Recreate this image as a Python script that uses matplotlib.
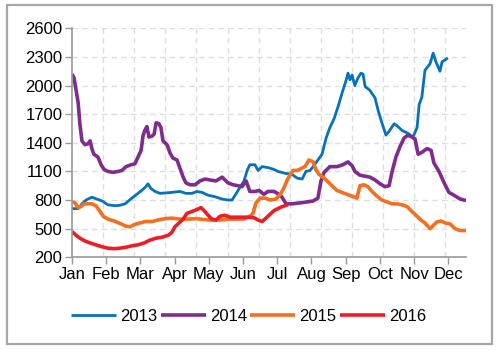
import matplotlib
matplotlib.use("Agg")
import matplotlib.pyplot as plt
from matplotlib.patches import Rectangle
from matplotlib.ticker import FixedLocator

plt.rcParams['font.family'] = ['Liberation Sans', 'DejaVu Sans']

months = ["Jan", "Feb", "Mar", "Apr", "May", "Jun", "Jul", "Aug", "Sep", "Oct", "Nov", "Dec"]
y_ticks = [200, 500, 800, 1100, 1400, 1700, 2000, 2300, 2600]
series_names = ["2013", "2014", "2015", "2016"]

x_2013 = [0.00, 0.18, 0.29, 0.41, 0.58, 0.73, 0.88, 1.05, 1.26, 1.40, 1.55, 1.75, 1.93, 2.05, 2.16, 2.22,
          2.31, 2.43, 2.57, 2.75, 2.92, 3.16, 3.33, 3.51, 3.65, 3.80, 3.98, 4.18, 4.39, 4.56, 4.68, 4.82,
          4.94, 5.03, 5.12, 5.20, 5.35, 5.44, 5.56, 5.73, 5.91, 6.02, 6.23, 6.43, 6.58, 6.73, 6.84, 6.96,
          7.05, 7.19, 7.31, 7.43, 7.54, 7.66, 7.78, 7.92, 8.01, 8.07, 8.13, 8.19, 8.27, 8.36, 8.45, 8.51,
          8.57, 8.71, 8.86, 8.95, 9.06, 9.18, 9.27, 9.42, 9.53, 9.65, 9.82, 9.97, 10.09, 10.15, 10.23,
          10.32, 10.47, 10.56, 10.64, 10.70, 10.76, 10.82, 10.91, 10.99]
v_2013 = [710, 710, 760, 800, 830, 810, 790, 750, 740, 745, 760, 820, 870, 905, 940, 970,
          920, 890, 870, 875, 880, 890, 870, 870, 890, 880, 850, 835, 810, 800, 800, 880,
          950, 1000, 1110, 1170, 1170, 1110, 1150, 1140, 1120, 1100, 1080, 1070, 1030, 1020, 1100, 1110,
          1150, 1220, 1280, 1450, 1560, 1650, 1780, 1950, 2050, 2130, 2060, 2110, 2000, 2080, 2130, 2120,
          1990, 1950, 1870, 1740, 1610, 1480, 1520, 1600, 1570, 1530, 1500, 1460, 1560, 1800, 1880,
          2160, 2230, 2340, 2250, 2200, 2150, 2250, 2270, 2290]

x_2014 = [0.00, 0.06, 0.12, 0.18, 0.23, 0.29, 0.38, 0.47, 0.53, 0.58, 0.64, 0.76, 0.85, 0.94, 1.05, 1.20,
          1.35, 1.46, 1.58, 1.73, 1.84, 1.93, 2.02, 2.08, 2.13, 2.19, 2.25, 2.34, 2.40, 2.46, 2.54, 2.60,
          2.66, 2.78, 2.87, 2.95, 3.07, 3.16, 3.25, 3.33, 3.45, 3.60, 3.74, 3.89, 4.04, 4.21, 4.39, 4.56,
          4.71, 4.85, 4.97, 5.09, 5.20, 5.35, 5.47, 5.61, 5.73, 5.91, 6.05, 6.14, 6.26, 6.43, 6.67, 6.87,
          7.05, 7.19, 7.28, 7.37, 7.54, 7.75, 7.92, 8.07, 8.19, 8.27, 8.42, 8.57, 8.71, 8.86, 9.01, 9.15,
          9.27, 9.36, 9.47, 9.59, 9.71, 9.82, 9.94, 10.03, 10.12, 10.23, 10.38, 10.50, 10.58, 10.73,
          10.88, 11.02, 11.17, 11.35, 11.52]
v_2014 = [2120, 2080, 1950, 1820, 1600, 1420, 1380, 1390, 1420, 1340, 1280, 1250, 1170, 1120, 1100, 1090,
          1100, 1110, 1150, 1170, 1180, 1250, 1320, 1480, 1530, 1570, 1460, 1470, 1490, 1610, 1600, 1560,
          1420, 1380, 1290, 1240, 1220, 1130, 1040, 980, 960, 960, 1000, 1020, 1010, 1000, 1040, 980,
          960, 950, 940, 1000, 890, 890, 900, 860, 890, 890, 860, 830, 760, 760, 770, 780,
          790, 820, 1000, 1090, 1150, 1150, 1170, 1200, 1160, 1100, 1060, 1050, 1040, 1010, 970, 940,
          950, 1100, 1250, 1360, 1450, 1480, 1460, 1440, 1280, 1300, 1340, 1320, 1190, 1100,
          980, 880, 850, 810, 795]

x_2015 = [0.00, 0.09, 0.18, 0.26, 0.35, 0.47, 0.58, 0.70, 0.82, 0.91, 1.05, 1.23, 1.40, 1.58, 1.70, 1.84,
          1.99, 2.16, 2.34, 2.51, 2.72, 2.92, 3.16, 3.39, 3.63, 3.86, 4.09, 4.33, 4.56, 4.80, 5.03, 5.20,
          5.29, 5.38, 5.50, 5.64, 5.79, 5.96, 6.11, 6.20, 6.29, 6.37, 6.46, 6.58, 6.70, 6.81, 6.93, 7.05,
          7.13, 7.22, 7.34, 7.46, 7.60, 7.75, 7.89, 8.04, 8.19, 8.33, 8.42, 8.54, 8.65, 8.77, 8.92, 9.06,
          9.21, 9.36, 9.50, 9.65, 9.80, 9.94, 10.09, 10.20, 10.32, 10.47, 10.58, 10.67, 10.79, 10.91,
          11.05, 11.20, 11.35, 11.52]
v_2015 = [780, 770, 720, 730, 760, 760, 760, 740, 680, 630, 600, 580, 555, 525, 520, 545,
          560, 575, 575, 590, 605, 610, 600, 600, 605, 595, 590, 590, 600, 600, 600, 630,
          660, 770, 820, 820, 800, 810, 870, 930, 1010, 1060, 1110, 1110, 1130, 1150, 1220, 1200,
          1120, 1070, 1040, 1000, 950, 900, 880, 860, 840, 820, 950, 960, 940, 890, 840, 800,
          780, 760, 760, 750, 730, 680, 630, 590, 560, 500, 540, 570, 580, 560,
          550, 500, 480, 480]

x_2016 = [0.00, 0.12, 0.23, 0.38, 0.53, 0.70, 0.88, 1.05, 1.23, 1.40, 1.58, 1.75, 1.93, 2.11, 2.28, 2.46,
          2.63, 2.81, 2.92, 3.01, 3.13, 3.25, 3.36, 3.51, 3.65, 3.77, 3.86, 3.98, 4.09, 4.21, 4.33, 4.47,
          4.62, 4.80, 4.97, 5.15, 5.32, 5.44, 5.56, 5.67, 5.79, 5.91, 6.02, 6.14, 6.26, 6.32]
v_2016 = [470, 430, 400, 370, 350, 330, 310, 295, 290, 295, 305, 320, 330, 350, 380, 400,
          410, 430, 460, 520, 560, 600, 660, 680, 700, 720, 690, 640, 600, 590, 630, 640,
          620, 620, 620, 620, 615, 590, 575, 610, 650, 690, 710, 730, 745, 750]

colors = ["#0672BA", "#7E2D8C", "#F36F21", "#EE1D25"]
widths = [2.0, 2.6, 2.6, 2.6]

fig = plt.figure(figsize=(5, 3.5), dpi=100)
fig.patches.append(Rectangle((0.014, 0.017), 0.970, 0.969, transform=fig.transFigure,
                             fill=False, edgecolor="#a6a6a6", linewidth=1.6))
ax = fig.add_axes([0.144, 0.265, 0.788, 0.654])

xs = [x_2013, x_2014, x_2015, x_2016]
vs = [v_2013, v_2014, v_2015, v_2016]
for x, v, c, w, n in zip(xs, vs, colors, widths, series_names):
    ax.plot(x, v, color=c, lw=w, label=n, solid_joinstyle='round', solid_capstyle='butt')

ax.set_xlim(0, 11.52)
ax.set_ylim(200, 2600)
ax.set_xticks(range(12))
ax.set_xticklabels(months)
ax.set_yticks(y_ticks)
ax.xaxis.set_minor_locator(FixedLocator([0.91 * k for k in range(1, 13)]))
ax.tick_params(axis='both', which='major', labelsize=12, length=5, width=1, color="#999999",
               pad=2, labelcolor="black")
ax.tick_params(axis='x', which='minor', length=0)
ax.grid(True, axis='y', which='major', color="#dedede", linestyle=(0, (4, 3)), lw=1)
ax.grid(True, axis='x', which='minor', color="#dedede", linestyle=(0, (4, 3)), lw=1)
ax.grid(False, axis='x', which='major')
ax.set_axisbelow(True)
for s in ['top', 'right']:
    ax.spines[s].set_visible(False)
for s in ['left', 'bottom']:
    ax.spines[s].set_color("#999999")
    ax.spines[s].set_linewidth(1.2)

fig.legend(loc='center', bbox_to_anchor=(0.497, 0.095), ncol=4, frameon=False,
           fontsize=12, handlelength=2.7, handletextpad=0.25, columnspacing=0.2)

fig.savefig("out.png", dpi=100)
